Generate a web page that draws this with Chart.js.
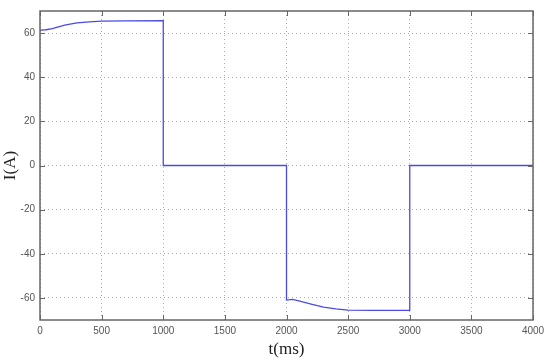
<!DOCTYPE html>
<html>
<head>
<meta charset="utf-8">
<script src="https://cdn.jsdelivr.net/npm/chart.js@4.4.0/dist/chart.umd.min.js"></script>
<style>
  html, body { margin: 0; padding: 0; background: #fff; }
  #wrap { width: 550px; height: 360px; }
</style>
</head>
<body>
<div id="wrap"><canvas id="chart" width="550" height="360"></canvas></div>
<script>
// current trace
const tMs = [0, 50, 100, 200, 300, 400, 500, 700, 1000, 1000, 2000, 2000, 2050, 2100, 2200, 2300, 2400, 2500, 2700, 3000, 3000, 4000];
const currentA = [61.3, 61.5, 62, 63.6, 64.6, 65.1, 65.4, 65.5, 65.6, 0, 0, -61, -60.7, -61.3, -62.8, -64.2, -65, -65.5, -65.6, -65.6, 0, 0];

const xTicks = [0, 500, 1000, 1500, 2000, 2500, 3000, 3500, 4000];
const yTicks = [-60, -40, -20, 0, 20, 40, 60];

const points = tMs.map((t, i) => ({ x: t, y: currentA[i] }));

// box + inward tick marks, matlab style
const framePlugin = {
  id: 'frame',
  afterDraw(chart) {
    const { ctx, chartArea: a, scales } = chart;
    ctx.save();
    ctx.strokeStyle = '#666';
    ctx.lineWidth = 1.5;
    ctx.strokeRect(a.left, a.top, a.right - a.left, a.bottom - a.top);
    ctx.lineWidth = 1;
    ctx.beginPath();
    xTicks.forEach(v => {
      const px = Math.round(scales.x.getPixelForValue(v)) + 0.5;
      ctx.moveTo(px, a.bottom); ctx.lineTo(px, a.bottom - 5);
      ctx.moveTo(px, a.top); ctx.lineTo(px, a.top + 5);
    });
    yTicks.forEach(v => {
      const py = Math.round(scales.y.getPixelForValue(v)) + 0.5;
      ctx.moveTo(a.left, py); ctx.lineTo(a.left + 5, py);
      ctx.moveTo(a.right, py); ctx.lineTo(a.right - 5, py);
    });
    ctx.stroke();
    ctx.restore();
  }
};

new Chart(document.getElementById('chart'), {
  type: 'line',
  data: {
    datasets: [{
      data: points,
      borderColor: '#4a4aea',
      borderWidth: 1.3,
      pointRadius: 0,
      tension: 0,
      fill: false
    }]
  },
  options: {
    responsive: false,
    animation: false,
    layout: { padding: { left: 0, right: 17, top: 8, bottom: 0 } },
    plugins: { legend: { display: false }, tooltip: { enabled: false } },
    scales: {
      x: {
        type: 'linear',
        min: 0,
        max: 4000,
        afterBuildTicks: s => { s.ticks = xTicks.map(v => ({ value: v })); },
        afterFit: s => { s.height = 40; },
        grid: { color: '#aaa', lineWidth: 1, drawTicks: false },
        border: { display: false, dash: [1, 3] },
        ticks: { color: '#555', font: { family: 'Arial, Liberation Sans', size: 10 }, padding: 5, maxRotation: 0, callback: v => String(v) },
        title: { display: true, text: 't(ms)', color: '#222', font: { family: 'Times New Roman, Liberation Serif', size: 17 }, padding: { top: 2, bottom: 0 } }
      },
      y: {
        type: 'linear',
        min: -70,
        max: 70,
        afterBuildTicks: s => { s.ticks = yTicks.map(v => ({ value: v })); },
        afterFit: s => { s.width = 40; },
        grid: { color: '#aaa', lineWidth: 1, drawTicks: false },
        border: { display: false, dash: [1, 3] },
        ticks: { color: '#555', font: { family: 'Arial, Liberation Sans', size: 10 }, padding: 5, callback: v => String(v) },
        title: { display: true, text: 'I(A)', color: '#222', font: { family: 'Times New Roman, Liberation Serif', size: 17 }, padding: { top: 0, bottom: 0 } }
      }
    }
  },
  plugins: [framePlugin]
});
</script>
</body>
</html>
